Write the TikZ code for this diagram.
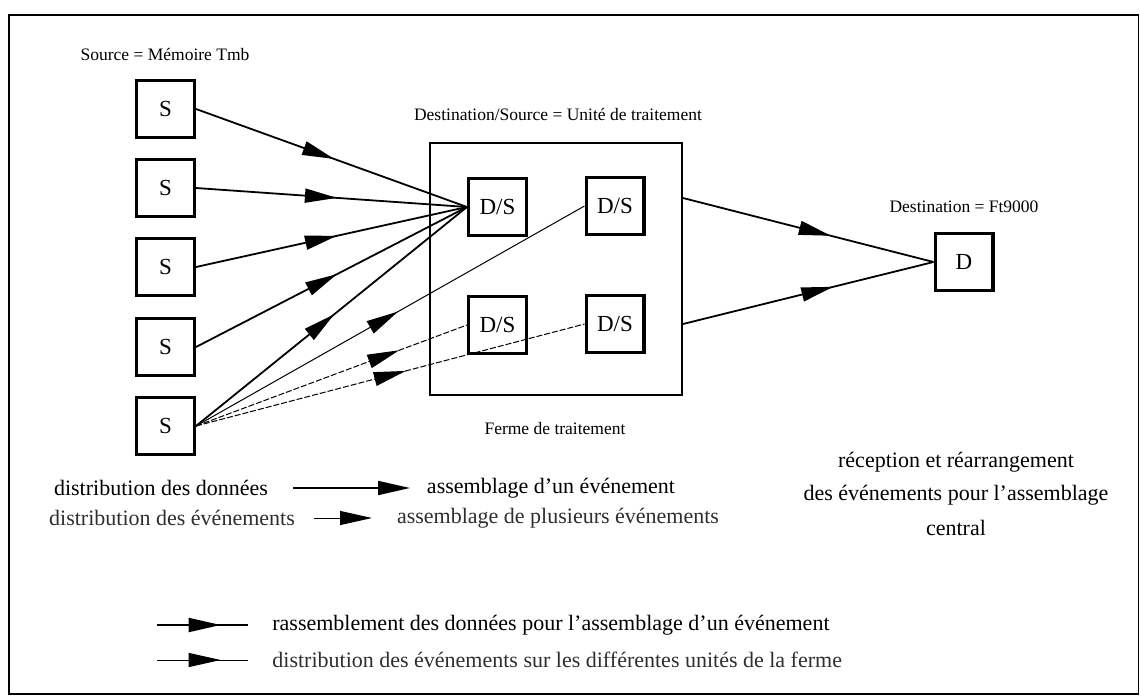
\documentclass[tikz,border=0pt]{standalone}
\usepackage{fontspec}
\setmainfont{Liberation Serif}
\usetikzlibrary{arrows.meta,decorations.markings}
\begin{document}
\begin{tikzpicture}[x=0.5pt,y=-0.5pt,
  box/.style={draw,line width=1.6pt,minimum width=28.9pt,minimum height=28.4pt,inner sep=0pt,font=\fontsize{11.5}{13}\selectfont},
  farmbox/.style={draw,line width=0.75pt,minimum width=126.2pt,minimum height=126.2pt,inner sep=0pt},
  lab/.style={font=\fontsize{8.75}{10}\selectfont,inner sep=0pt},
  big/.style={font=\fontsize{11}{13}\selectfont,inner sep=0pt},
  light/.style={font=\fontsize{11}{13}\selectfont,inner sep=0pt,text=black!82},
  conn/.style={line width=0.9pt},
  thinconn/.style={line width=0.5pt},
  dconn/.style={line width=0.5pt,dash pattern=on 3pt off 1pt},
  midarrow/.style={postaction={decorate},decoration={markings,mark=at position #1 with {\arrow{Triangle[length=16pt,width=7pt]}}}},
  midarrow/.default=0.52,
  endarrow/.style={-{Triangle[length=16pt,width=7pt]}}
]
\useasboundingbox (0,0) rectangle (1140,696);
% frame
\draw[line width=0.7pt] (9,15) rectangle (1138.5,694);

% sources
\node[lab] (srclab) at (165,55) {Source = Mémoire Tmb};
\node[box] (s1) at (165.5,109) {S};
\node[box] (s2) at (165.5,188) {S};
\node[box] (s3) at (165.5,267) {S};
\node[box] (s4) at (165.5,347) {S};
\node[box] (s5) at (165.5,426) {S};

% farm
\node[lab] (dslab) at (558,114) {Destination/Source = Unité de traitement};
\node[farmbox] (farm) at (556,269) {};
\node[box] (ds1) at (497.5,207) {D/S};
\node[box] (ds2) at (615,206) {D/S};
\node[box] (ds3) at (497.5,325) {D/S};
\node[box] (ds4) at (615,324) {D/S};
\node[lab] (fermelab) at (555,429) {Ferme de traitement};

% destination
\node[lab] (dlab) at (964,207) {Destination = Ft9000};
\node[box] (d) at (964,262) {D};
\coordinate (fo1) at (farm.east |- 0,198);
\coordinate (fo2) at (farm.east |- 0,324);

% connectors
\draw[conn,midarrow=0.51] (s1.east) -- (ds1.west);
\draw[conn,midarrow=0.52] (s2.east) -- (ds1.west);
\draw[conn,midarrow=0.52] (s3.east) -- (ds1.west);
\draw[conn,midarrow=0.52] (s4.east) -- (ds1.west);
\draw[conn,midarrow=0.51] (s5.east) -- (ds1.west);
\draw[thinconn,midarrow=0.52] (s5.east) -- (ds2.west);
\draw[dconn,midarrow=0.75] (s5.east) -- (ds3.west);
\draw[dconn,midarrow=0.54] (s5.east) -- (ds4.west);
\draw[conn,midarrow=0.59] (fo1) -- (d.west);
\draw[conn,midarrow=0.6] (fo2) -- (d.west);

% legend rows
\node[big] (l1a) at (161,488) {distribution des données};
\coordinate (a1s) at (293,488);
\coordinate (a1e) at (410,488);
\draw[conn,endarrow] (a1s) -- (a1e);
\node[big] (l1b) at (551,488) {assemblage d’un événement};

\node[light] (l2a) at (172,518) {distribution des événements};
\coordinate (a2s) at (314,518);
\coordinate (a2e) at (372,518);
\draw[thinconn,endarrow] (a2s) -- (a2e);
\node[light] (l2b) at (558,518) {assemblage de plusieurs événements};

\node[big] (r1) at (956,462) {réception et réarrangement};
\node[big] (r2) at (956,495) {des événements pour l’assemblage};
\node[big] (r3) at (956,528) {central};

% bottom legend
\coordinate (b1s) at (157,625);
\coordinate (b1e) at (248,625);
\draw[conn,midarrow=0.7] (b1s) -- (b1e);
\node[big,anchor=west] (b1t) at (272,625) {rassemblement des données pour l’assemblage d’un événement};
\coordinate (b2s) at (157,660);
\coordinate (b2e) at (248,660);
\draw[thinconn,midarrow=0.7] (b2s) -- (b2e);
\node[light,anchor=west] (b2t) at (272,660) {distribution des événements sur les différentes unités de la ferme};
\end{tikzpicture}
\end{document}
